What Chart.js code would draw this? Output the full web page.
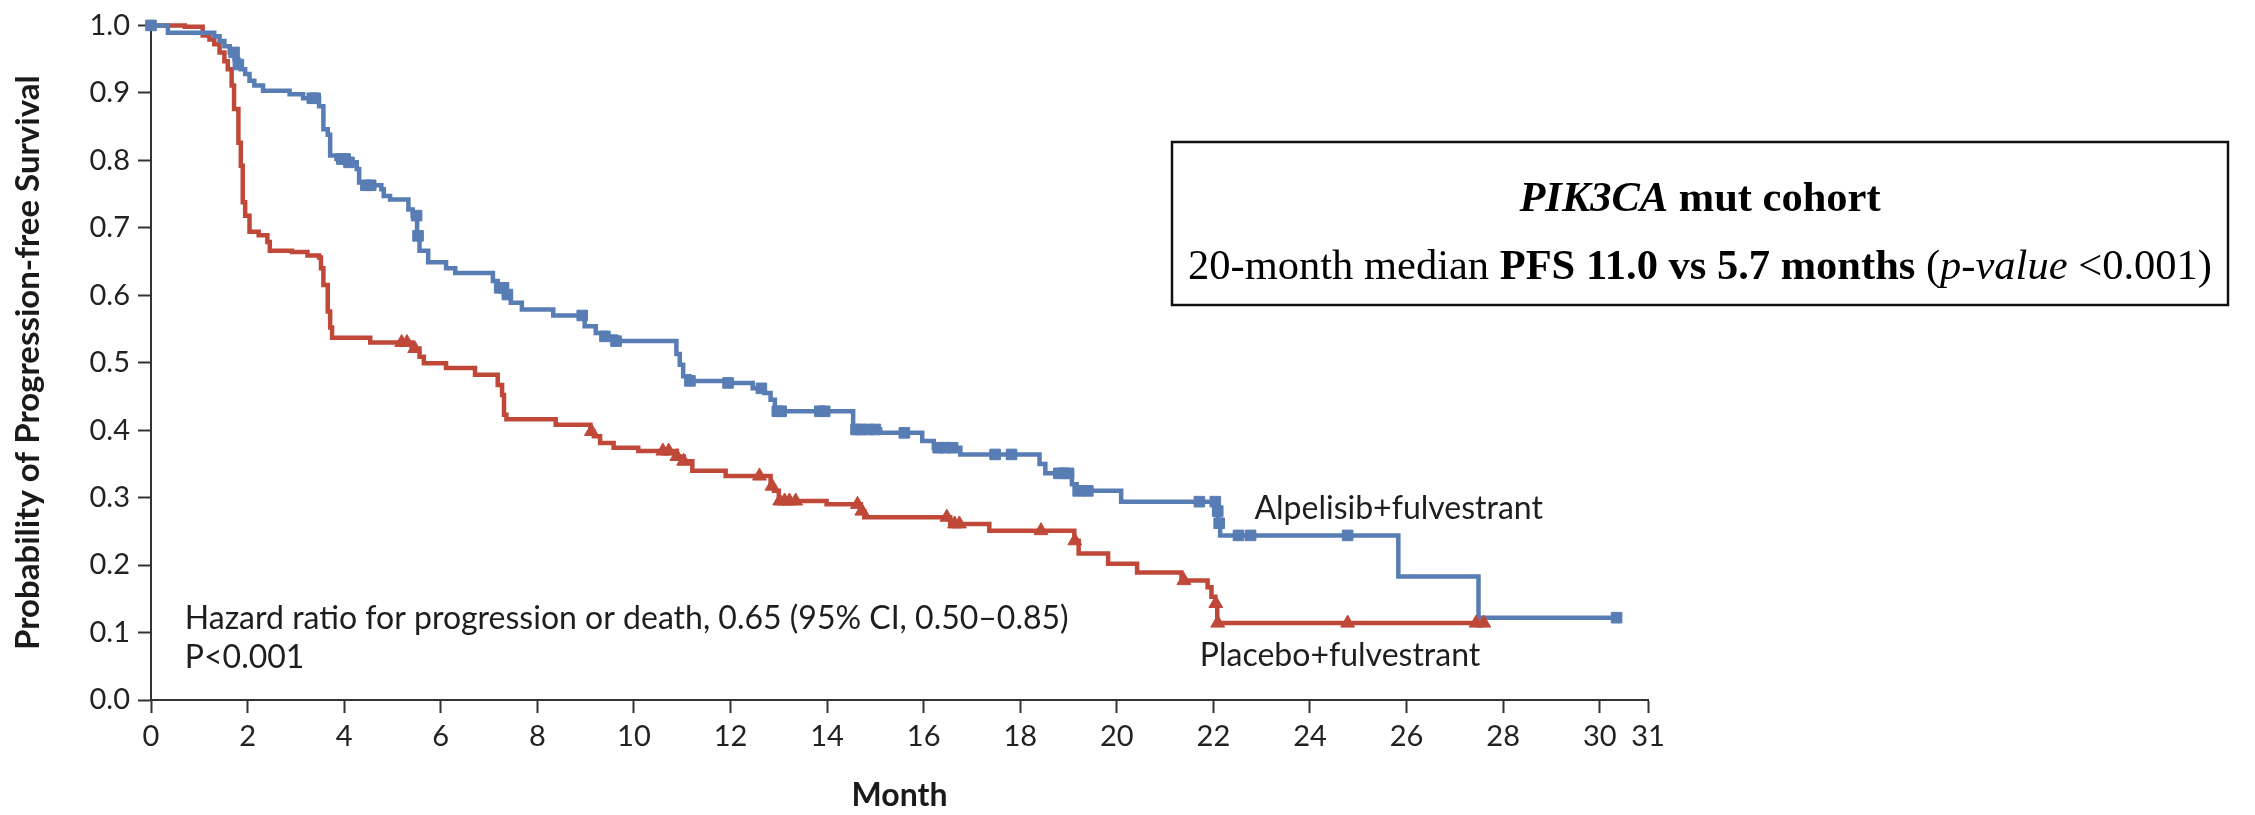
<!DOCTYPE html>
<html>
<head>
<meta charset="utf-8">
<script src="https://cdn.jsdelivr.net/npm/chart.js@4.4.1/dist/chart.umd.min.js"></script>
<style>
html,body{margin:0;padding:0;background:#ffffff;}
#wrap{width:2255px;height:815px;position:relative;}
canvas{display:block;}
</style>
</head>
<body>
<div id="wrap"><canvas id="c" width="2255" height="815"></canvas></div>
<script>
// ---------- axis ticks ----------
const monthTicks = [0, 2, 4, 6, 8, 10, 12, 14, 16, 18, 20, 22, 24, 26, 28, 30, 31];
const survivalTicks = [0.0, 0.1, 0.2, 0.3, 0.4, 0.5, 0.6, 0.7, 0.8, 0.9, 1.0];

// ---------- Alpelisib + fulvestrant (KM steps: month, survival after step) ----------
const alpMonths = [0, 0.35, 1.31, 1.42, 1.52, 1.63, 1.73, 1.81, 1.86, 1.95, 2.04, 2.14, 2.32, 2.87, 3.15,
  3.48, 3.57, 3.66, 3.71, 3.84, 4.08, 4.26, 4.31, 4.45, 4.77, 4.82, 4.95, 5.33, 5.42, 5.51, 5.56, 5.74,
  6.11, 6.30, 7.08, 7.18, 7.31, 7.45, 7.68, 8.33, 8.98, 9.21, 9.40, 9.63, 10.88, 10.95, 11.02, 11.15,
  11.90, 12.46, 12.70, 12.83, 12.92, 14.54, 15.10, 15.97, 16.21, 16.76, 18.40, 18.52, 19.07, 19.17,
  20.09, 22.08, 22.10, 22.14, 25.83, 27.49, 30.35];
const alpSurv = [1.000, 0.989, 0.984, 0.977, 0.969, 0.960, 0.950, 0.942, 0.935, 0.928, 0.918, 0.911, 0.903, 0.898, 0.892,
  0.880, 0.846, 0.838, 0.807, 0.802, 0.797, 0.787, 0.767, 0.763, 0.757, 0.747, 0.742, 0.727, 0.718, 0.688, 0.666, 0.649,
  0.640, 0.633, 0.621, 0.611, 0.601, 0.589, 0.579, 0.570, 0.554, 0.544, 0.539, 0.532, 0.513, 0.497, 0.480, 0.473,
  0.470, 0.462, 0.455, 0.445, 0.428, 0.401, 0.396, 0.384, 0.374, 0.364, 0.350, 0.336, 0.320, 0.310,
  0.294, 0.280, 0.262, 0.244, 0.183, 0.122, 0.122];
const alpCensorMonths = [0, 1.72, 1.81, 3.34, 3.40, 3.95, 4.02, 4.10, 4.45, 4.55, 5.50, 5.53, 7.22, 7.30, 7.38,
  8.93, 9.40, 9.63, 11.16, 11.95, 12.64, 12.97, 13.05, 13.85, 13.95, 14.60, 14.70, 14.85, 15.0, 15.6,
  16.3, 16.45, 16.6, 17.48, 17.82, 18.8, 18.9, 19.0, 19.2, 19.4, 21.71, 22.04, 22.09, 22.12, 22.52, 22.77,
  24.78, 30.35];

// ---------- Placebo + fulvestrant ----------
const plaMonths = [0, 0.70, 1.07, 1.21, 1.31, 1.42, 1.52, 1.59, 1.67, 1.72, 1.81, 1.86, 1.90, 1.95, 2.04, 2.23,
  2.41, 2.46, 2.92, 3.24, 3.48, 3.52, 3.57, 3.66, 3.71, 3.75, 4.54, 5.40, 5.56, 5.65, 6.11, 6.71, 7.18,
  7.27, 7.31, 7.36, 8.38, 9.10, 9.17, 9.30, 9.58, 10.09, 10.89, 11.03, 11.21, 11.90, 12.83, 12.90, 13.00,
  13.99, 14.70, 14.77, 16.55, 17.36, 19.12, 19.21, 19.82, 20.42, 21.34, 21.88, 21.96, 22.04, 22.08, 27.60];
const plaSurv = [1.000, 0.998, 0.985, 0.979, 0.972, 0.960, 0.947, 0.935, 0.911, 0.876, 0.826, 0.792, 0.738, 0.718, 0.694, 0.689,
  0.679, 0.666, 0.664, 0.659, 0.656, 0.640, 0.615, 0.576, 0.552, 0.537, 0.530, 0.521, 0.509, 0.499, 0.492, 0.482, 0.467,
  0.452, 0.423, 0.416, 0.408, 0.398, 0.391, 0.381, 0.374, 0.369, 0.361, 0.354, 0.340, 0.332, 0.317, 0.310, 0.295,
  0.290, 0.280, 0.271, 0.261, 0.251, 0.236, 0.217, 0.202, 0.189, 0.177, 0.167, 0.153, 0.143, 0.114, 0.114];
const plaCensorMonths = [5.19, 5.30, 5.46, 9.12, 10.60, 10.72, 10.89, 11.03, 12.60, 12.86, 13.02, 13.12, 13.22,
  13.35, 14.63, 14.72, 16.48, 16.64, 16.74, 18.43, 19.13, 21.39, 22.05, 22.09, 24.78, 27.44, 27.60];

// ---------- texts ----------
const yTitle = 'Probability of Progression-free Survival';
const xTitle = 'Month';
const hrText = 'Hazard ratio for progression or death, 0.65 (95% CI, 0.50\u20130.85)';
const pText = 'P<0.001';
const alpLabel = 'Alpelisib+fulvestrant';
const plaLabel = 'Placebo+fulvestrant';

const BLUE = '#587db4';
const RED = '#c04838';

function toXY(ms, ss) { return ms.map((m, i) => ({ x: m, y: ss[i] })); }
function survAt(ms, ss, t) {
  let v = ss[0];
  for (let i = 0; i < ms.length; i++) { if (ms[i] <= t) v = ss[i]; else break; }
  return v;
}
function censorXY(cm, ms, ss) { return cm.map(t => ({ x: t, y: survAt(ms, ss, t) })); }

function drawSegments(ctx, segs, cx, cy) {
  let total = 0;
  segs.forEach(s => { ctx.font = s.f; s.w = ctx.measureText(s.t).width; total += s.w; });
  let x = cx - total / 2;
  segs.forEach(s => { ctx.font = s.f; ctx.fillText(s.t, x, cy); x += s.w; });
}

const annotPlugin = {
  id: 'annot',
  afterDraw(chart) {
    const { ctx } = chart;
    const xs = chart.scales.x, ys = chart.scales.y;
    ctx.save();
    ctx.fillStyle = '#1e1e1e';
    ctx.textAlign = 'left';
    ctx.textBaseline = 'middle';
    ctx.font = '32px Lato';
    ctx.fillText(hrText, xs.getPixelForValue(0.70), ys.getPixelForValue(0.121));
    ctx.fillText(pText, xs.getPixelForValue(0.70), ys.getPixelForValue(0.063));
    ctx.fillText(alpLabel, xs.getPixelForValue(22.85), ys.getPixelForValue(0.283));
    ctx.fillText(plaLabel, xs.getPixelForValue(21.72), ys.getPixelForValue(0.066));

    // info box
    const bx = 1172, by = 142, bw = 1056, bh = 163;
    ctx.strokeStyle = '#111';
    ctx.lineWidth = 2.5;
    ctx.strokeRect(bx, by, bw, bh);
    ctx.fillStyle = '#000';
    const serif = '"Liberation Serif", "Times New Roman", serif';
    const cx = bx + bw / 2;
    drawSegments(ctx, [
      { t: 'PIK3CA', f: 'italic bold 42.5px ' + serif },
      { t: ' mut cohort', f: 'bold 42.5px ' + serif }
    ], cx, 200);
    drawSegments(ctx, [
      { t: '20-month median ', f: '42.5px ' + serif },
      { t: 'PFS 11.0 vs 5.7 months', f: 'bold 42.5px ' + serif },
      { t: ' (', f: '42.5px ' + serif },
      { t: 'p-value', f: 'italic 42.5px ' + serif },
      { t: ' <0.001)', f: '42.5px ' + serif }
    ], cx, 268);
    ctx.restore();
  }
};

function make() {
  const ctx = document.getElementById('c').getContext('2d');
  new Chart(ctx, {
    type: 'line',
    data: {
      datasets: [
        { label: 'Alpelisib+fulvestrant', data: toXY(alpMonths, alpSurv), borderColor: BLUE, borderWidth: 4.5,
          stepped: 'before', pointRadius: 0, fill: false, clip: false, order: 2 },
        { label: 'Placebo+fulvestrant', data: toXY(plaMonths, plaSurv), borderColor: RED, borderWidth: 4.5,
          stepped: 'before', pointRadius: 0, fill: false, clip: false, order: 3 },
        { type: 'scatter', label: 'alp censored', data: censorXY(alpCensorMonths, alpMonths, alpSurv),
          pointStyle: 'rect', pointRadius: 7.5, backgroundColor: BLUE, borderColor: BLUE, borderWidth: 1,
          showLine: false, clip: false, order: 0 },
        { type: 'scatter', label: 'pla censored', data: censorXY(plaCensorMonths, plaMonths, plaSurv),
          pointStyle: 'triangle', pointRadius: 8, backgroundColor: RED, borderColor: RED, borderWidth: 1,
          showLine: false, clip: false, order: 1 }
      ]
    },
    options: {
      responsive: false,
      devicePixelRatio: 1,
      animation: false,
      events: [],
      layout: { padding: { left: 0, right: 607, top: 22, bottom: 0 } },
      plugins: { legend: { display: false }, tooltip: { enabled: false } },
      scales: {
        x: {
          type: 'linear', min: 0, max: 31,
          afterFit(s) { s.height = 115; },
          afterBuildTicks(s) { s.ticks = monthTicks.map(v => ({ value: v })); },
          grid: { drawOnChartArea: false, drawTicks: true, tickLength: 13, tickWidth: 2, tickColor: '#333' },
          border: { display: true, color: '#333', width: 2 },
          ticks: { color: '#222', font: { family: 'Lato', size: 29 }, padding: 6, autoSkip: false, maxRotation: 0,
            callback: v => String(v) },
          title: { display: true, text: xTitle, color: '#1a1a1a', font: { family: 'Lato', size: 32, weight: 'bold' },
            padding: { top: 0, bottom: 0 } }
        },
        y: {
          type: 'linear', min: 0, max: 1,
          afterFit(s) { s.width = 151; },
          afterBuildTicks(s) { s.ticks = survivalTicks.map(v => ({ value: v })); },
          grid: { drawOnChartArea: false, drawTicks: true, tickLength: 13, tickWidth: 2, tickColor: '#333' },
          border: { display: true, color: '#333', width: 2 },
          ticks: { color: '#222', font: { family: 'Lato', size: 29 }, padding: 8, callback: v => Number(v).toFixed(1) },
          title: { display: true, text: yTitle, color: '#1a1a1a', font: { family: 'Lato', size: 33, weight: 'bold' },
            padding: { top: 9, bottom: 0 } }
        }
      }
    },
    plugins: [annotPlugin]
  });
}

const fontLoads = ['32px Lato', 'bold 33px Lato', '42.5px "Liberation Serif"', 'bold 42.5px "Liberation Serif"',
  'italic 42.5px "Liberation Serif"', 'italic bold 42.5px "Liberation Serif"'].map(f => document.fonts.load(f));
Promise.all(fontLoads).then(make, make);
</script>
</body>
</html>
